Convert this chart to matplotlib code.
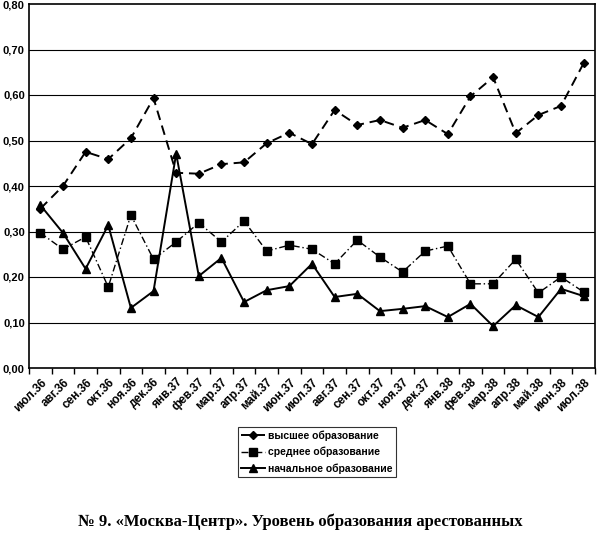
import matplotlib.pyplot as plt
import numpy as np

# months (categories)
months = ["июл.36", "авг.36", "сен.36", "окт.36", "ноя.36", "дек.36", "янв.37",
          "фев.37", "мар.37", "апр.37", "май.37", "июн.37", "июл.37", "авг.37",
          "сен.37", "окт.37", "ноя.37", "дек.37", "янв.38", "фев.38", "мар.38",
          "апр.38", "май.38", "июн.38", "июл.38"]

higher = [0.35, 0.40, 0.475, 0.459, 0.505, 0.593, 0.429, 0.427, 0.448, 0.452,
          0.494, 0.517, 0.492, 0.567, 0.534, 0.545, 0.528, 0.545, 0.514, 0.597,
          0.639, 0.516, 0.556, 0.576, 0.670]
secondary = [0.297, 0.261, 0.288, 0.178, 0.336, 0.239, 0.277, 0.319, 0.277, 0.323,
             0.257, 0.270, 0.261, 0.229, 0.281, 0.244, 0.211, 0.257, 0.268, 0.185,
             0.185, 0.239, 0.165, 0.200, 0.167]
primary = [0.358, 0.297, 0.218, 0.314, 0.132, 0.169, 0.471, 0.202, 0.242, 0.145,
           0.171, 0.180, 0.229, 0.156, 0.163, 0.125, 0.130, 0.136, 0.112, 0.141,
           0.092, 0.138, 0.112, 0.174, 0.158]

labels = ["высшее образование", "среднее образование", "начальное образование"]
yticks = [0.0, 0.1, 0.2, 0.3, 0.4, 0.5, 0.6, 0.7, 0.8]

plt.rcParams['font.family'] = ['Liberation Sans', 'DejaVu Sans']

fig = plt.figure(figsize=(6, 5.43), dpi=100)
ax = fig.add_axes([29 / 600, 1 - 368 / 543, 566 / 600, 364 / 543])

x = np.arange(len(months))
ax.plot(x, higher, color='black', ls=(0, (5, 3)), lw=1.4, marker='D', ms=4.5, label=labels[0])
ax.plot(x, secondary, color='black', ls=(0, (5, 2, 1, 2)), lw=1.0, marker='s', ms=5.5, label=labels[1])
ax.plot(x, primary, color='black', ls='-', lw=1.4, marker='^', ms=6, label=labels[2])

ax.set_xlim(-0.5, len(months) - 0.5)
ax.set_ylim(0, 0.8)
ax.set_yticks(yticks)
ax.set_yticklabels([f"{v:.2f}".replace('.', ',') for v in yticks], fontsize=8, fontweight='bold')
ax.tick_params(axis='y', length=0, pad=3)

for v in yticks[1:-1]:
    ax.axhline(v, color='black', lw=0.8, zorder=0)

ax.set_xticks(np.arange(-0.5, len(months)), minor=False)
ax.set_xticklabels([])
ax.tick_params(axis='x', which='major', length=4, direction='out', width=1)
ax.set_xticks(x, minor=True)
ax.set_xticklabels(months, minor=True, rotation=45, ha='right', rotation_mode='anchor',
                   fontsize=8.5, fontweight='bold')
ax.tick_params(axis='x', which='minor', length=0, pad=6)

for s in ax.spines.values():
    s.set_linewidth(1.2)

leg = fig.legend(loc='center', bbox_to_anchor=(317 / 600, 1 - 452 / 543), frameon=True,
                 fancybox=False, edgecolor='black', fontsize=7.5, handlelength=2.3,
                 borderpad=0.35, labelspacing=0.55, handletextpad=0.3)
leg.get_frame().set_linewidth(0.8)
for t in leg.get_texts():
    t.set_fontweight('bold')

fig.text(0.5, 1 - 522 / 543, "№ 9. «Москва-Центр». Уровень образования арестованных",
         ha='center', va='center', fontsize=12, fontweight='bold',
         family=['Liberation Serif', 'DejaVu Serif'])

fig.savefig('out.png', dpi=100)
